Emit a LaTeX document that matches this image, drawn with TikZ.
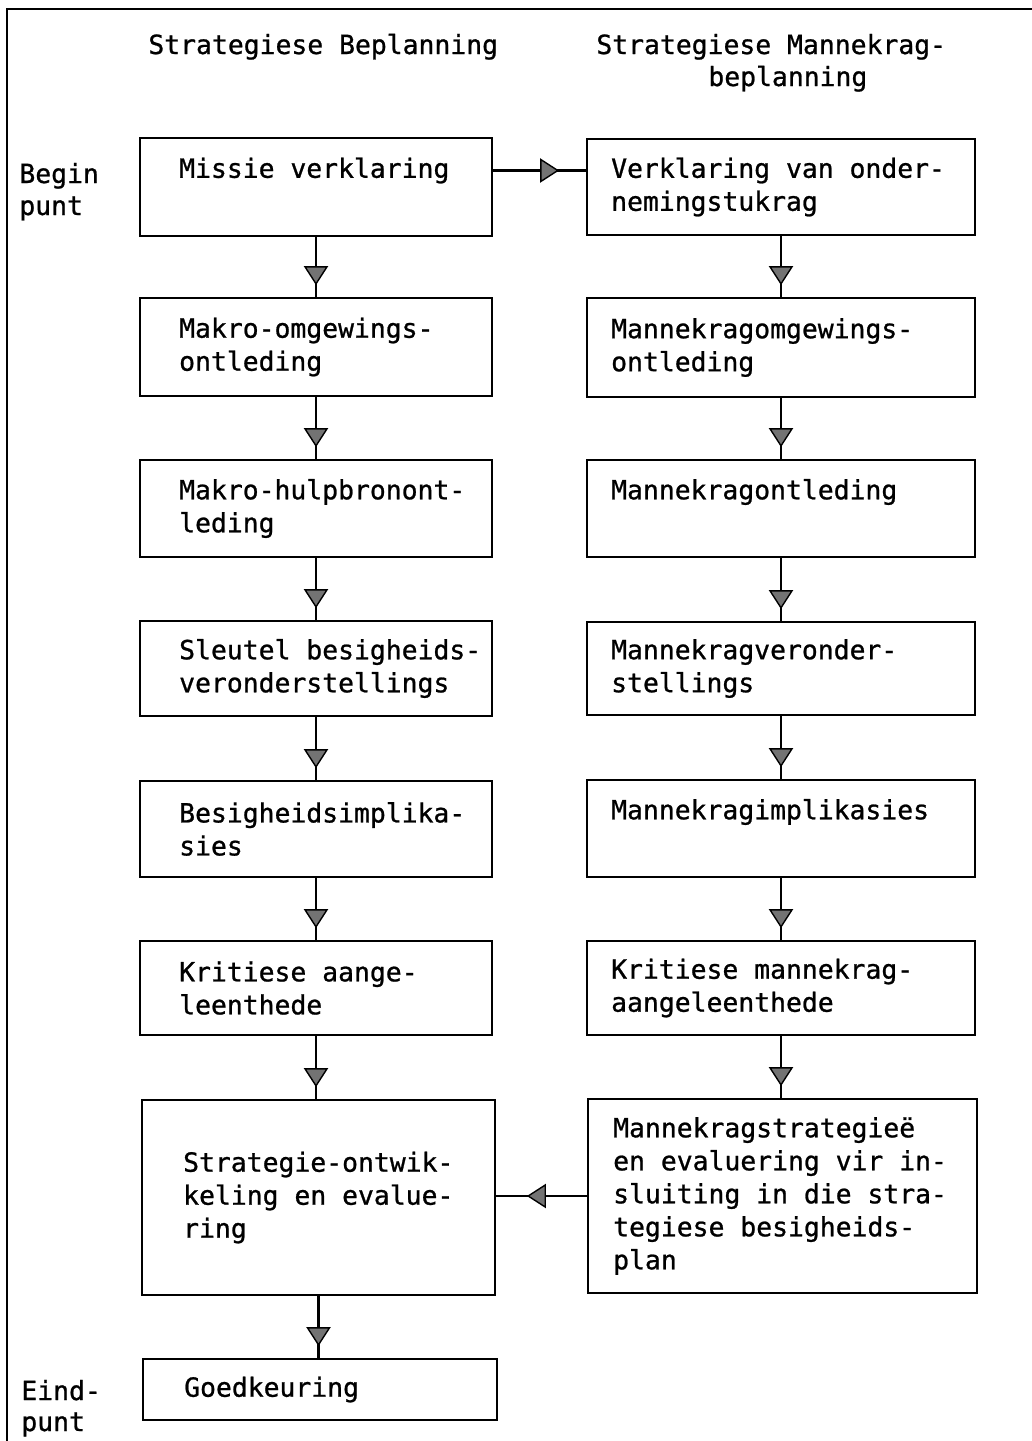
\documentclass[tikz,border=0pt]{standalone}
\usepackage{fontspec}
\newfontfamily\chartfont{DejaVu Sans Mono}[FakeBold=0.9]
\usetikzlibrary{decorations.markings}

\tikzset{
  txt/.style={font=\chartfont\fontsize{13.2}{16.5}\selectfont, inner sep=0pt, align=left},
  box/.style={draw, line width=1.2pt, inner sep=0pt},
  lbox/.style={box, minimum width=176pt},
  rbox/.style={box, minimum width=194pt},
  ltext/.style={txt, anchor=west},
  % connector with a grey triangular head placed a little before its end
  flow/.style={draw, line width=1.1pt, postaction={decorate},
    decoration={markings, mark=at position -#1 with {
      \filldraw[line width=0.7pt, fill=black!55, draw=black]
        (0pt,0pt) -- (-8.5pt,5.5pt) -- (-8.5pt,-5.5pt) -- cycle;}}},
}

\begin{document}
\begin{tikzpicture}[x=0.5pt,y=-0.5pt]
\useasboundingbox (0,0) rectangle (1032,1441);

% open frame: top and left edges only
\draw[line width=1.3pt] (7,1441) -- (7,9) -- (1032,9);

% column headings
\node[txt, anchor=base west] (T1) at (148,54) {Strategiese Beplanning};
\node[txt, anchor=base west] (T2) at (596,54) {Strategiese Mannekrag-};
\node[txt, anchor=base west] (T3) at (708,86) {beplanning};

% start and end markers
\node[txt, anchor=base west] (B1) at (19,183) {Begin};
\node[txt, anchor=base west] (B2) at (19,215) {punt};
\node[txt, anchor=base west] (E1) at (21,1400) {Eind-};
\node[txt, anchor=base west] (E2) at (21,1431) {punt};

% left column: strategic planning
\node[lbox, minimum height=49pt]   (L1) at (316,187)    {};
\node[lbox, minimum height=49pt]   (L2) at (316,347)    {};
\node[lbox, minimum height=48.5pt] (L3) at (316,508.5)  {};
\node[lbox, minimum height=47.5pt] (L4) at (316,668.5)  {};
\node[lbox, minimum height=48pt]   (L5) at (316,829)    {};
\node[lbox, minimum height=47pt]   (L6) at (316,988)    {};
\node[box, minimum width=176.5pt, minimum height=97.5pt] (L7) at (318.5,1197.5) {};
\node[box, minimum width=177pt, minimum height=30.5pt]   (L8) at (320,1389.5)   {};

\node[ltext] (L1t) at ([xshift=20pt,yshift=8.25pt]L1.west) {Missie verklaring};
\node[ltext] (L2t) at ([xshift=20pt]L2.west) {Makro-omgewings-\\ontleding};
\node[ltext] (L3t) at ([xshift=20pt]L3.west) {Makro-hulpbronont-\\leding};
\node[ltext] (L4t) at ([xshift=20pt]L4.west) {Sleutel besigheids-\\veronderstellings};
\node[ltext] (L5t) at ([xshift=20pt]L5.west) {Besigheidsimplika-\\sies};
\node[ltext] (L6t) at ([xshift=20pt]L6.west) {Kritiese aange-\\leenthede};
\node[ltext] (L7t) at ([xshift=21pt]L7.west) {Strategie-ontwik-\\keling en evalue-\\ring};
\node[ltext] (L8t) at ([xshift=21pt]L8.west) {Goedkeuring};

% right column: strategic manpower planning
\node[rbox, minimum height=48pt]   (R1) at (781,187)    {};
\node[rbox, minimum height=49.5pt] (R2) at (781,347.5)  {};
\node[rbox, minimum height=48.5pt] (R3) at (781,508.5)  {};
\node[rbox, minimum height=46.5pt] (R4) at (781,668.5)  {};
\node[rbox, minimum height=48.5pt] (R5) at (781,828.5)  {};
\node[rbox, minimum height=47pt]   (R6) at (781,988)    {};
\node[box, minimum width=194.5pt, minimum height=97pt] (R7) at (782.5,1196) {};

\node[ltext] (R1t) at ([xshift=12.5pt]R1.west) {Verklaring van onder-\\nemingstukrag};
\node[ltext] (R2t) at ([xshift=12.5pt]R2.west) {Mannekragomgewings-\\ontleding};
\node[ltext] (R3t) at ([xshift=12.5pt,yshift=8.25pt]R3.west) {Mannekragontleding};
\node[ltext] (R4t) at ([xshift=12.5pt]R4.west) {Mannekragveronder-\\stellings};
\node[ltext] (R5t) at ([xshift=12.5pt,yshift=8.25pt]R5.west) {Mannekragimplikasies};
\node[ltext] (R6t) at ([xshift=12.5pt]R6.west) {Kritiese mannekrag-\\aangeleenthede};
\node[ltext] (R7t) at ([xshift=13pt]R7.west) {Mannekragstrategieë\\en evaluering vir in-\\sluiting in die stra-\\tegiese besigheids-\\plan};

% vertical flow, left column
\draw[flow=6.5pt] (L1.south) -- (L1.south |- L2.north);
\draw[flow=6.5pt] (L2.south) -- (L2.south |- L3.north);
\draw[flow=6.5pt] (L3.south) -- (L3.south |- L4.north);
\draw[flow=6.5pt] (L4.south) -- (L4.south |- L5.north);
\draw[flow=6.5pt] (L5.south) -- (L5.south |- L6.north);
\draw[flow=6.5pt] (L6.south) -- (L6.south |- L7.north);
\draw[flow=6.5pt] (L7.south) -- (L7.south |- L8.north);

% vertical flow, right column
\draw[flow=6.5pt] (R1.south) -- (R1.south |- R2.north);
\draw[flow=6.5pt] (R2.south) -- (R2.south |- R3.north);
\draw[flow=6.5pt] (R3.south) -- (R3.south |- R4.north);
\draw[flow=6.5pt] (R4.south) -- (R4.south |- R5.north);
\draw[flow=6.5pt] (R5.south) -- (R5.south |- R6.north);
\draw[flow=6.5pt] (R6.south) -- (R6.south |- R7.north);

% cross links between the columns
\draw[flow=14pt] (L1t -| L1.east) -- (L1t -| R1.west);
\draw[flow=16pt] (R7.west) -- (R7.west -| L7.east);
\end{tikzpicture}
\end{document}
